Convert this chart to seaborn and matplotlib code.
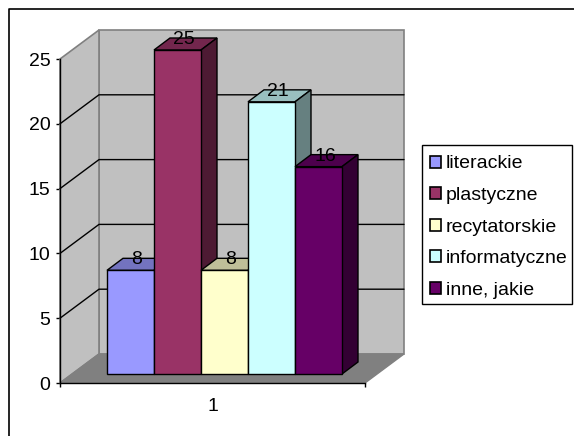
import matplotlib
matplotlib.use("Agg")
import matplotlib.pyplot as plt
from matplotlib.lines import Line2D
from matplotlib.patches import Polygon, Rectangle
import pandas as pd
import seaborn as sns

# <1> Data
categories = ["literackie", "plastyczne", "recytatorskie", "informatyczne", "inne, jakie"]
values = [8, 25, 8, 21, 16]
group_label = "1"
y_ticks = [0, 5, 10, 15, 20, 25]
colors = ["#9999FF", "#993366", "#FFFFCC", "#CCFFFF", "#660066"]
top_colors = ["#7373BF", "#73264D", "#BFBF99", "#99BFBF", "#4D004D"]
side_colors = ["#4D4D80", "#4D1A33", "#808066", "#668080", "#330033"]

sns.set_theme(style="white")
plt.rcParams["font.family"] = ["Liberation Sans", "DejaVu Sans"]

W, H = 574, 436
FONT = 14
fig = plt.figure(figsize=(W / 100, H / 100), dpi=100)
fig.patch.set_facecolor("white")


def pixel_axes(x0, x1, y_top, y_bottom):
    return fig.add_axes([x0 / W, 1 - y_bottom / H, (x1 - x0) / W, (y_bottom - y_top) / H])


# frame of the chart, cut off on the right and at the bottom
fig.add_artist(Line2D([8.5 / W, 8.5 / W, 1], [0, 1 - 9 / H, 1 - 9 / H], transform=fig.transFigure,
                      color="black", lw=1.2))

# <2> Front plane: ticks, walls, floor and gridlines
ax = pixel_axes(60, 365, 59, 383)
ax.set_xlim(0, 1)
ax.set_ylim(0, 25)
ax.patch.set_visible(False)
wall_dx = 39 / 305
wall_dy = 29 / 324 * 25
ax.add_patch(Polygon([(wall_dx, wall_dy), (1 + wall_dx, wall_dy), (1 + wall_dx, 25 + wall_dy), (wall_dx, 25 + wall_dy)],
                     facecolor="#C0C0C0", edgecolor="#808080", lw=1.2, clip_on=False, zorder=1))
ax.add_patch(Polygon([(0, 0), (wall_dx, wall_dy), (wall_dx, 25 + wall_dy), (0, 25)],
                     facecolor="#C0C0C0", edgecolor="#808080", lw=1.2, clip_on=False, zorder=1))
ax.add_patch(Polygon([(0, 0), (1, 0), (1 + wall_dx, wall_dy), (wall_dx, wall_dy)],
                     facecolor="#808080", edgecolor="#808080", lw=1.0, clip_on=False, zorder=1))
for v in y_ticks[1:-1]:
    ax.plot([0, wall_dx, 1 + wall_dx], [v, v + wall_dy, v + wall_dy], color="black", lw=1.0, clip_on=False, zorder=2)

for side in ["top", "right"]:
    ax.spines[side].set_visible(False)
for side in ["left", "bottom"]:
    ax.spines[side].set_color("black")
    ax.spines[side].set_linewidth(1.0)
ax.set_yticks(y_ticks)
ax.set_xticks([0, 1])
ax.set_xticklabels([])
ax.set_xticks([0.5], [group_label], minor=True)
ax.tick_params(axis="both", which="major", length=3, width=1.0, color="black", left=True, bottom=True,
               labelsize=FONT, labelcolor="black", pad=4)
ax.tick_params(axis="x", which="minor", length=0, labelsize=FONT, labelcolor="black", pad=11)

# <3> Bars
df = pd.DataFrame({"group": [group_label] * len(values), "kategoria": categories, "liczba": values})
ax_bars = pixel_axes(107, 342, 50, 374)
sns.barplot(data=df, x="group", y="liczba", hue="kategoria", hue_order=categories, palette=colors,
            width=1, gap=0, saturation=1, edgecolor="black", linewidth=1.0, ax=ax_bars, legend=False)
ax_bars.set_xlim(-0.5, 0.5)
ax_bars.set_ylim(0, 25)
ax_bars.axis("off")

# depth of one bar, in data units of the bar axes
bar_dx = 16 / 235
bar_dy = 12 / 324 * 25
bars = [p for p in ax_bars.patches if p.get_width() > 0]
for i, bar in enumerate(bars):
    x0, x1 = bar.get_x(), bar.get_x() + bar.get_width()
    v = bar.get_height()
    bar.set_zorder(5 + 2 * i)
    bar.set_clip_on(False)
    ax_bars.add_patch(Polygon([(x0, v), (x1, v), (x1 + bar_dx, v + bar_dy), (x0 + bar_dx, v + bar_dy)],
                              facecolor=top_colors[i], edgecolor="black", lw=1.0, clip_on=False, zorder=4 + 2 * i))
    ax_bars.add_patch(Polygon([(x1, 0), (x1 + bar_dx, bar_dy), (x1 + bar_dx, v + bar_dy), (x1, v)],
                              facecolor=side_colors[i], edgecolor="black", lw=1.0, clip_on=False, zorder=4 + 2 * i))
    ax_bars.text((x0 + x1) / 2 + bar_dx * 0.4, v + bar_dy - 0.12, str(values[i]), ha="center", va="center",
                 fontsize=FONT, color="black", zorder=30, clip_on=False)

# <4> Legend, its box drawn apart so the padding can differ per side
fig.add_artist(Rectangle((422 / W, 1 - 304 / H), 150 / W, 159 / H, transform=fig.transFigure,
                         facecolor="white", edgecolor="black", linewidth=1.0))
handles = [Rectangle((0, 0), 1, 1, facecolor=c, edgecolor="black", linewidth=1.2) for c in colors]
fig.legend(handles, categories, loc="upper left", bbox_to_anchor=(430 / W, 1 - 155.5 / H),
           frameon=False, borderpad=0,
           fontsize=FONT, labelcolor="black", handlelength=0.57, handleheight=0.57, handletextpad=0.23,
           labelspacing=0.75, borderaxespad=0)

fig.savefig("out.png", dpi=100)
